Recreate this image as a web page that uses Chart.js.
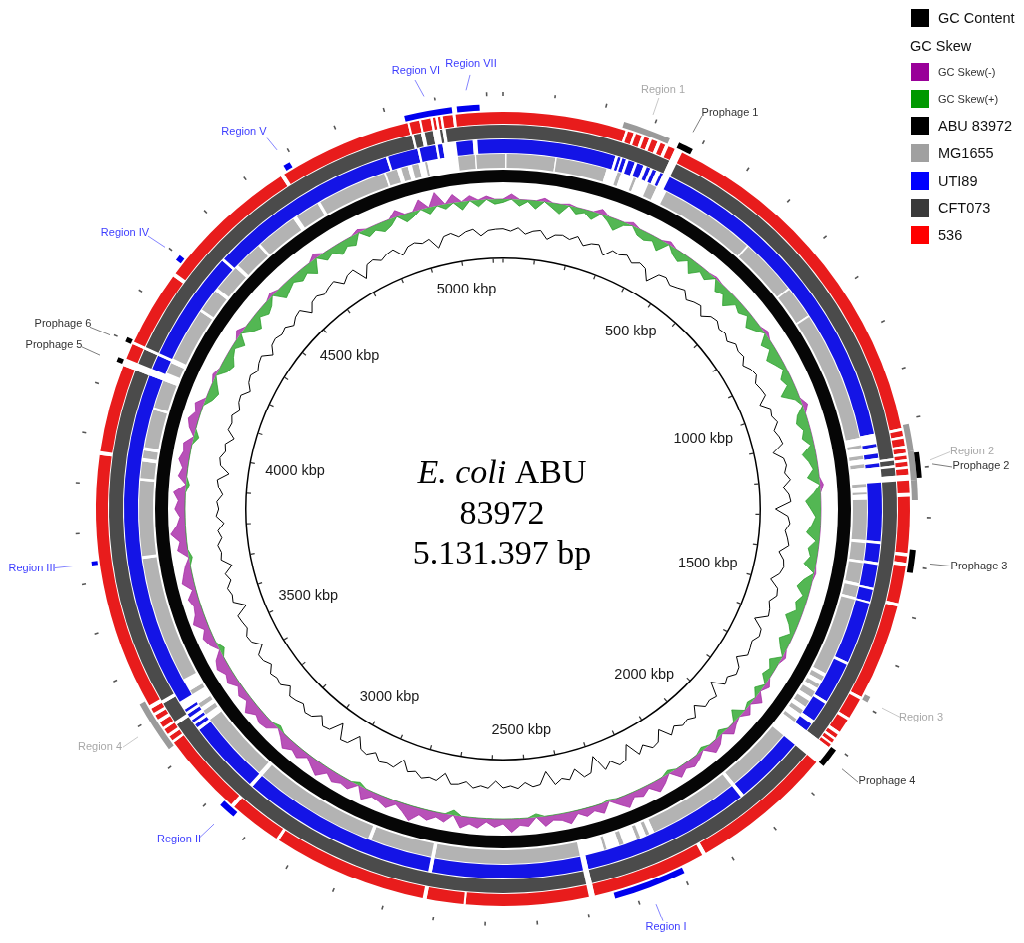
<!DOCTYPE html>
<html>
<head>
<meta charset="utf-8">
<script src="https://cdn.jsdelivr.net/npm/chart.js@4.4.0/dist/chart.umd.min.js"></script>
<style>
  body { margin: 0; background: #fff; width: 1024px; height: 943px; overflow: hidden; position: relative;
         font-family: "Liberation Sans", Arial, sans-serif; }
  #stack { position: absolute; left: 0; top: 0; width: 1024px; height: 967px;
           transform: scaleY(0.975); transform-origin: 0 0; }
  #stack canvas { position: absolute; left: 0; top: 0; }
  .lg { position: absolute; left: 911px; height: 18px; display: flex; align-items: center;
        font-size: 14.5px; color: #111; white-space: nowrap; }
  .lg i { display: inline-block; width: 18px; height: 18px; margin-right: 9px; }
  .lg.small { font-size: 11px; color: #333; }
</style>
</head>
<body>
<div id="stack">
  <canvas id="rings" width="1024" height="967"></canvas>
  <canvas id="skew" width="1024" height="967"></canvas>
  <canvas id="content" width="1024" height="967"></canvas>
</div>

<div class="lg" style="top:9px"><i style="background:#000"></i>GC Content</div>
<div class="lg" style="top:37px;left:910px">GC Skew</div>
<div class="lg small" style="top:63px"><i style="background:#990099"></i>GC Skew(-)</div>
<div class="lg small" style="top:90px"><i style="background:#009900"></i>GC Skew(+)</div>
<div class="lg" style="top:117px"><i style="background:#000"></i>ABU 83972</div>
<div class="lg" style="top:144px"><i style="background:#a0a0a0"></i>MG1655</div>
<div class="lg" style="top:172px"><i style="background:#0000ff"></i>UTI89</div>
<div class="lg" style="top:199px"><i style="background:#3a3a3a"></i>CFT073</div>
<div class="lg" style="top:226px"><i style="background:#ff0000"></i>536</div>

<script>
const SQ = 0.975;            // the picture is slightly squashed vertically
const GENOME = 5131.397;     // kbp

// white gaps (kbp) in each comparison ring
const gaps536 = [[250,255],[267,272],[284,290],[300,306],[318,325],[335,342],[356,372],[1115,1121],[1132,1137],
  [1152,1158],[1167,1173],[1180,1186],[1195,1200],[1212,1224],[1250,1258],[1374,1381],[1394,1401],[1479,1486],
  [1686,1692],[1735,1741],[1770,1777],[1785,1790],[1797,1801],[1808,1848],[2140,2148],[2380,2392],[2641,2645],
  [2720,2728],[3042,3048],[3155,3163],[3335,3340],[3350,3356],[3368,3373],[3385,3392],[3402,3408],[3418,3426],
  [3960,3968],[4150,4166],[4198,4204],[4360,4368],[4660,4668],[4938,4942],[4962,4966],[4985,4990],[4995,5000],
  [5005,5010],[5030,5036]];
const gapsCFT073 = [[356,372],[1175,1180],[1190,1195],[1212,1224],[1808,1848],[2380,2392],[3362,3370],[3415,3422],
  [4150,4166],[4198,4204],[4940,4945],[4960,4968],[4985,5000],[5005,5012]];
const gapsUTI89 = [[246,252],[258,262],[270,276],[290,296],[310,318],[326,332],[340,350],[356,372],[1115,1138],
  [1145,1160],[1170,1182],[1190,1224],[1355,1361],[1401,1407],[1458,1463],[1490,1494],[1632,1638],[1730,1736],
  [1780,1790],[1808,1848],[2004,2012],[2380,2392],[2720,2728],[3155,3163],[3325,3332],[3340,3346],[3352,3360],
  [3368,3374],[3380,3400],[4150,4166],[4198,4204],[4450,4456],[4875,4880],[4945,4950],[4985,4990],[5000,5030],
  [5066,5076]];
const gapsMG1655 = [[5,8],[118,121],[236,262],[270,300],[306,336],[356,380],[600,604],[735,739],[812,816],
  [1118,1135],[1142,1160],[1168,1180],[1188,1225],[1232,1245],[1250,1262],[1355,1362],[1402,1408],[1455,1462],
  [1488,1494],[1676,1684],[1695,1705],[1715,1725],[1740,1750],[1765,1775],[1785,1800],[1808,1848],[2004,2012],
  [2216,2228],[2236,2250],[2258,2290],[2300,2330],[2336,2392],[2720,2728],[2868,2876],[3155,3165],[3330,3345],
  [3355,3365],[3375,3400],[3410,3440],[3733,3740],[3914,3920],[3958,3966],[3984,3992],[4080,4086],[4150,4170],
  [4195,4206],[4330,4336],[4388,4396],[4458,4466],[4530,4536],[4630,4640],[4695,4702],[4860,4864],[4890,4900],
  [4915,4925],[4940,4955],[4960,5030],[5068,5071]];

// annotated regions (kbp)
const blueRegions = [[2196,2342],[3143,3178],[3734,3742],[4390,4402],[4676,4690],[4935,5030],[5040,5085]];
const grayRegions = [[242,338],[1110,1165],[1224,1265],[1678,1690],[3330,3437]];
const prophages = [[358,388],[1366,1413],[1805,1845],[4153,4163],[4197,4207]];
const prophagesOuter = [[1169,1220]];
const region2Inner = [[1165,1224]];

// GC skew per window (positive = G excess), 240 windows
const gcSkew = [
  0.02,-0.03,0.04,0.01,0.05,-0.02,0.03,0.06,-0.01,0.04,0.02,0.05,-0.03,0.03,0.07,0.02,-0.02,0.04,
  0.05,0.03,0.07,-0.02,0.04,0.06,0.02,0.08,0.03,0.05,-0.01,0.06,0.04,0.09,0.03,0.05,
  0.02,0.07,0.04,-0.02,0.06,0.03,0.08,0.05,0.02,0.06,0.04,0.10,0.03,-0.03,0.05,0.07,
  0.04,0.06,0.02,0.08,0.05,0.03,0.07,-0.02,0.04,0.09,0.06,0.03,0.05,0.08,0.02,0.06,
  0.04,0.07,-0.01,0.05,0.08,0.03,0.06,0.04,0.09,0.05,0.02,0.07,0.04,-0.02,0.06,0.03,
  0.05,-0.03,0.04,-0.05,0.02,-0.04,0.06,-0.02,-0.05,0.03,-0.04,-0.06,0.02,-0.03,
  -0.05,-0.03,-0.06,0.02,-0.04,-0.07,-0.02,-0.05,-0.03,-0.08,-0.04,0.01,-0.06,-0.03,-0.05,-0.02,
  -0.07,-0.04,-0.03,-0.06,0.02,-0.05,-0.04,-0.08,-0.03,-0.05,-0.02,-0.06,-0.04,-0.07,0.03,-0.05,
  -0.03,-0.06,-0.04,-0.09,-0.05,-0.02,-0.06,-0.04,-0.03,-0.07,0.02,-0.05,-0.04,-0.06,-0.03,-0.08,
  -0.05,-0.02,-0.06,-0.04,-0.07,-0.03,0.02,-0.05,-0.06,-0.04,-0.08,-0.03,-0.05,-0.02,-0.06,-0.04,
  -0.07,-0.05,0.03,-0.04,-0.06,-0.03,-0.08,-0.05,-0.04,-0.06,-0.02,-0.07,-0.05,-0.03,0.02,-0.06,
  -0.04,-0.09,-0.05,-0.03,-0.06,-0.04,-0.07,0.02,-0.05,-0.03,-0.06,-0.04,-0.05,0.03,-0.04,-0.06,
  -0.03,-0.05,
  0.04,0.06,0.03,-0.02,0.05,0.07,0.04,0.02,0.06,-0.03,0.05,0.08,0.03,0.06,0.04,-0.02,0.07,0.05,
  0.03,0.06,0.04,0.08,-0.03,0.05,0.03,0.07,0.04,0.06,-0.02,0.05,0.03,0.06,0.04,-0.04,0.05,0.03,
  -0.06,0.04,-0.08,0.03,-0.05,0.05,-0.03,0.04,-0.02,0.03
];

// GC content per window (fraction), 240 windows
const gcContent = [
  0.512,0.505,0.516,0.498,0.509,0.514,0.490,0.507,0.511,0.503,0.518,0.495,0.508,0.513,0.486,0.510,0.506,0.515,0.499,0.511,
  0.504,0.473,0.509,0.514,0.501,0.508,0.517,0.496,0.506,0.512,0.489,0.510,0.515,0.502,0.508,0.497,0.513,0.506,0.511,0.494,
  0.509,0.515,0.500,0.507,0.512,0.484,0.510,0.505,0.516,0.498,0.508,0.513,0.478,0.506,0.511,0.502,0.517,0.493,0.509,0.514,
  0.467,0.505,0.512,0.499,0.508,0.515,0.488,0.506,0.511,0.503,0.481,0.509,0.514,0.497,0.507,0.512,0.476,0.508,0.513,0.500,
  0.506,0.511,0.485,0.509,0.515,0.498,0.507,0.470,0.512,0.504,0.509,0.483,0.513,0.501,0.507,0.492,0.510,0.474,0.505,0.511,
  0.488,0.508,0.463,0.506,0.512,0.490,0.509,0.457,0.504,0.510,0.479,0.507,0.498,0.512,0.468,0.505,0.509,0.494,0.511,0.502,
  0.508,0.487,0.510,0.504,0.513,0.496,0.507,0.511,0.482,0.509,0.505,0.514,0.499,0.508,0.477,0.510,0.506,0.512,0.491,0.509,
  0.503,0.471,0.507,0.511,0.466,0.505,0.510,0.486,0.508,0.513,0.497,0.506,0.511,0.489,0.509,0.504,0.512,0.493,0.507,0.510,
  0.484,0.508,0.513,0.500,0.506,0.511,0.475,0.509,0.504,0.512,0.495,0.507,0.481,0.510,0.505,0.513,0.498,0.508,0.488,0.511,
  0.503,0.509,0.492,0.506,0.512,0.479,0.508,0.514,0.501,0.507,0.485,0.510,0.505,0.513,0.496,0.508,0.511,0.490,0.506,0.512,
  0.499,0.509,0.514,0.487,0.507,0.511,0.503,0.510,0.494,0.508,0.513,0.482,0.506,0.511,0.500,0.509,0.515,0.491,0.507,0.512,
  0.469,0.505,0.510,0.497,0.508,0.513,0.486,0.506,0.511,0.502,0.509,0.476,0.507,0.512,0.498,0.510,0.515,0.493,0.508,0.511
];

const rulerLabels = [500, 1000, 1500, 2000, 2500, 3000, 3500, 4000, 4500, 5000];

const annotations = [
  {text: 'Region VI',  color: '#3d3dff', x: 416, y: 71,  line: [415, 80, 424, 96]},
  {text: 'Region VII', color: '#3d3dff', x: 471, y: 64,  line: [470, 75, 466, 90]},
  {text: 'Region 1',   color: '#a8a8a8', x: 663, y: 90,  line: [659, 98, 653, 115]},
  {text: 'Prophage 1', color: '#333333', x: 730, y: 113, line: [702, 116, 693, 132]},
  {text: 'Region V',   color: '#3d3dff', x: 244, y: 132, line: [267, 138, 277, 150]},
  {text: 'Region IV',  color: '#3d3dff', x: 125, y: 233, line: [148, 236, 165, 247]},
  {text: 'Prophage 6', color: '#333333', x: 63,  y: 324, line: [90, 327, 110, 335]},
  {text: 'Prophage 5', color: '#333333', x: 54,  y: 345, line: [82, 347, 100, 355]},
  {text: 'Region III', color: '#3d3dff', x: 32,  y: 568, line: [55, 568, 73, 566]},
  {text: 'Region 4',   color: '#a8a8a8', x: 100, y: 747, line: [123, 747, 138, 737]},
  {text: 'Region II',  color: '#3d3dff', x: 179, y: 839, line: [200, 837, 214, 824]},
  {text: 'Region I',   color: '#3d3dff', x: 666, y: 927, line: [663, 921, 656, 904]},
  {text: 'Prophage 4', color: '#333333', x: 887, y: 781, line: [858, 782, 842, 769]},
  {text: 'Region 3',   color: '#a8a8a8', x: 921, y: 718, line: [900, 717, 882, 708]},
  {text: 'Region 2',   color: '#a8a8a8', x: 972, y: 451, line: [950, 452, 930, 460]},
  {text: 'Prophage 2', color: '#333333', x: 981, y: 466, line: [952, 467, 932, 464]},
  {text: 'Prophage 3', color: '#333333', x: 979, y: 566, line: [950, 566, 930, 564]}
];

const CLEAR = 'rgba(0,0,0,0)';
const pad = {left: 75, top: 94, right: 93, bottom: 17};

function buildRing(blocks, base) {
  const data = [], colors = [];
  let pos = 0;
  blocks.slice().sort((a, b) => a[0] - b[0]).forEach(b => {
    if (b[0] > pos) { data.push(b[0] - pos); colors.push(base); }
    data.push(b[1] - Math.max(b[0], pos)); colors.push(b[2]);
    pos = b[1];
  });
  if (pos < GENOME) { data.push(GENOME - pos); colors.push(base); }
  return {data, colors};
}

function ring(blocks, base, weight) {
  const r = buildRing(blocks, base);
  return {data: r.data, backgroundColor: r.colors, weight: weight};
}
const tint = (list, color) => list.map(g => [g[0], g[1], color]);
const spacer = w => ({data: [GENOME], backgroundColor: [CLEAR], weight: w});

function tickBlocks(step, half, color) {
  const out = [[0, half, color], [GENOME - half, GENOME, color]];
  for (let t = step; t < GENOME - half; t += step) out.push([t - half, t + half, color]);
  return out;
}

const ringDatasets = [
  ring(tickBlocks(100, 1.5, '#555555'), CLEAR, 4),
  spacer(4),
  ring(tint(prophagesOuter, '#000000'), CLEAR, 5),
  ring(tint(blueRegions, '#0000ee').concat(tint(grayRegions, '#9a9a9a'), tint(region2Inner, '#9a9a9a'),
       tint(prophages, '#000000')), CLEAR, 6),
  spacer(2),
  ring(tint(gaps536, '#ffffff'), '#e81c1c', 12),
  spacer(1),
  ring(tint(gapsCFT073, '#ffffff'), '#4b4b4b', 14),
  spacer(1),
  ring(tint(gapsUTI89, '#ffffff'), '#1414e6', 14),
  spacer(1),
  ring(tint(gapsMG1655, '#ffffff'), '#b3b3b3', 14),
  spacer(2),
  {data: [GENOME], backgroundColor: ['#060606'], weight: 13},
  spacer(77),
  {data: [GENOME], backgroundColor: ['#000000'], weight: 1.5},
  ring(tickBlocks(100, 2, '#333333'), CLEAR, 4)
];

const noInteract = {
  responsive: false, animation: false, events: [],
  layout: {padding: pad},
  plugins: {legend: {display: false}, tooltip: {enabled: false}}
};

new Chart(document.getElementById('rings'), {
  type: 'doughnut',
  data: {labels: [], datasets: ringDatasets},
  options: Object.assign({}, noInteract, {
    cutout: 252.5,
    elements: {arc: {borderWidth: 0, hoverBorderWidth: 0, offset: 0, hoverOffset: 0}}
  })
});

const windowKbp = GENOME / gcSkew.length;
const windowLabels = gcSkew.map((v, i) => Math.round(i * windowKbp));

function radialScale(min, max, reverse) {
  return {
    type: 'radialLinear', min: min, max: max, reverse: reverse,
    grid: {display: false, circular: true},
    angleLines: {display: false},
    ticks: {display: false},
    pointLabels: {display: false}
  };
}

// skew: 0 sits at 318 px, 170 px per unit, positive drawn inward
new Chart(document.getElementById('skew'), {
  type: 'radar',
  data: {
    labels: windowLabels,
    datasets: [
      {data: gcSkew.map(v => Math.max(v, 0)), borderColor: '#1f9a1f', backgroundColor: 'rgba(40,165,40,0.8)',
       borderWidth: 0.7, pointRadius: 0, fill: {value: 0}},
      {data: gcSkew.map(v => Math.min(v, 0)), borderColor: '#a01fa0', backgroundColor: 'rgba(166,38,166,0.8)',
       borderWidth: 0.7, pointRadius: 0, fill: {value: 0}}
    ]
  },
  options: Object.assign({}, noInteract, {
    elements: {line: {tension: 0}},
    scales: {r: radialScale(-0.647, 1.8706, true)}
  })
});

const textPlugin = {
  id: 'mapText',
  afterDraw(chart) {
    const ctx = chart.ctx;
    const a = chart.chartArea;
    const cx = (a.left + a.right) / 2, cy = (a.top + a.bottom) / 2;
    ctx.save();
    ctx.textAlign = 'center';
    ctx.textBaseline = 'middle';
    ctx.fillStyle = '#1a1a1a';
    ctx.font = '14.5px "Liberation Sans", Arial, sans-serif';
    rulerLabels.forEach(k => {
      const t = k / GENOME * 2 * Math.PI;
      const s = Math.sin(t);
      const r = 228 - 17 * s * s;
      ctx.fillText(k + ' kbp', cx + r * s, cy - r * Math.cos(t));
    });

    const serif = '"Liberation Serif", "Times New Roman", serif';
    ctx.textBaseline = 'alphabetic';
    ctx.fillStyle = '#000';
    ctx.font = 'italic 34px ' + serif;
    const w1 = ctx.measureText('E. coli').width;
    ctx.font = '34px ' + serif;
    const w2 = ctx.measureText(' ABU').width;
    const x0 = cx - 1 - (w1 + w2) / 2;
    ctx.textAlign = 'left';
    ctx.font = 'italic 34px ' + serif;
    ctx.fillText('E. coli', x0, cy - 27);
    ctx.font = '34px ' + serif;
    ctx.fillText(' ABU', x0 + w1, cy - 27);
    ctx.textAlign = 'center';
    ctx.fillText('83972', cx - 1, cy + 15);
    ctx.fillText('5.131.397 bp', cx - 1, cy + 56);

    ctx.font = '11px "Liberation Sans", Arial, sans-serif';
    ctx.textBaseline = 'middle';
    annotations.forEach(n => {
      ctx.strokeStyle = n.color;
      ctx.globalAlpha = 0.8;
      ctx.lineWidth = 0.8;
      ctx.beginPath();
      ctx.moveTo(n.line[0], n.line[1] / SQ);
      ctx.lineTo(n.line[2], n.line[3] / SQ);
      ctx.stroke();
      ctx.globalAlpha = 1;
      ctx.fillStyle = n.color;
      ctx.fillText(n.text, n.x, n.y / SQ);
    });
    ctx.restore();
  }
};

// GC content: 0.508 sits at 286 px, 330 px per unit
new Chart(document.getElementById('content'), {
  type: 'radar',
  data: {
    labels: windowLabels,
    datasets: [
      {data: gcContent, borderColor: '#000000', borderWidth: 1, pointRadius: 0, fill: false}
    ]
  },
  options: Object.assign({}, noInteract, {
    elements: {line: {tension: 0}},
    scales: {r: radialScale(-0.3587, 0.9383, false)}
  }),
  plugins: [textPlugin]
});
</script>
</body>
</html>
